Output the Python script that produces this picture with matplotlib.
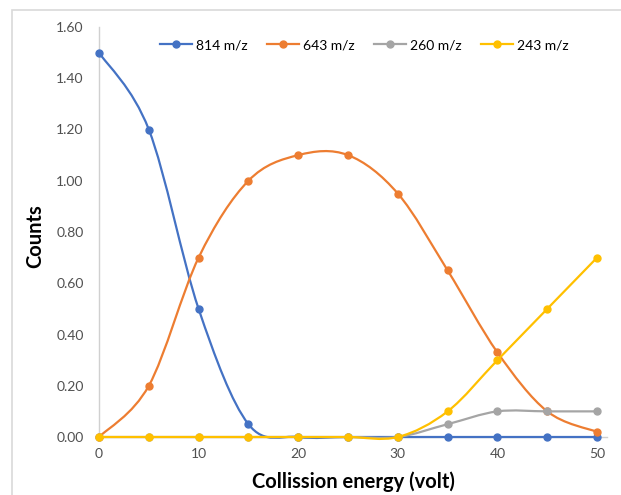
import matplotlib
matplotlib.use("Agg")
import matplotlib.pyplot as plt
from matplotlib.path import Path
from matplotlib.patches import PathPatch, Rectangle
from matplotlib.lines import Line2D

# data
energy = [0, 5, 10, 15, 20, 25, 30, 35, 40, 45, 50]
mz_814 = [1.50, 1.20, 0.50, 0.05, 0, 0, 0, 0, 0, 0, 0]
mz_643 = [0, 0.20, 0.70, 1.00, 1.10, 1.10, 0.95, 0.65, 0.33, 0.10, 0.02]
mz_260 = [0, 0, 0, 0, 0, 0, 0, 0.05, 0.10, 0.10, 0.10]
mz_243 = [0, 0, 0, 0, 0, 0, 0, 0.10, 0.30, 0.50, 0.70]

series_names = ["814 m/z", "643 m/z", "260 m/z", "243 m/z"]
series_colors = ["#4472C4", "#ED7D31", "#A5A5A5", "#FFC000"]
y_ticks = [0, 0.2, 0.4, 0.6, 0.8, 1.0, 1.2, 1.4, 1.6]
x_ticks = [0, 10, 20, 30, 40, 50]

plt.rcParams["font.family"] = ["Lato", "DejaVu Sans"]


def smooth_path(xs, ys):
    # excel style "smoothed line": cubic bezier through every point
    verts = [(xs[0], ys[0])]
    codes = [Path.MOVETO]
    n = len(xs)
    for i in range(n - 1):
        a = max(i - 1, 0)
        b = min(i + 2, n - 1)
        c1 = (xs[i] + (xs[i + 1] - xs[a]) / 6, ys[i] + (ys[i + 1] - ys[a]) / 6)
        c2 = (xs[i + 1] - (xs[b] - xs[i]) / 6, ys[i + 1] - (ys[b] - ys[i]) / 6)
        verts += [c1, c2, (xs[i + 1], ys[i + 1])]
        codes += [Path.CURVE4] * 3
    return Path(verts, codes)


fig = plt.figure(figsize=(6.21, 4.95), dpi=100)
ax = fig.add_axes([99 / 621, 1 - 437 / 495, 508 / 621, 410 / 495])

# light frame around the chart area
fig.patches.append(Rectangle((12 / 621, -0.1), 1.2, 1 - 10 / 495 + 0.1,
                             transform=fig.transFigure, fill=False,
                             edgecolor="#D9D9D9", linewidth=1.2))

all_series = [mz_814, mz_643, mz_260, mz_243]
handles = []
for k, (vals, name, col) in enumerate(zip(all_series, series_names, series_colors)):
    patch = PathPatch(smooth_path(energy, vals), facecolor="none", edgecolor=col,
                      linewidth=1.6, clip_on=False, zorder=3 + k)
    ax.add_patch(patch)
    ax.plot(energy, vals, "o", color=col, markersize=5, clip_on=False, zorder=3 + k)
    handles.append(Line2D([], [], color=col, marker="o", markersize=5, linewidth=1.6))

ax.set_xlim(0, 51)
ax.set_ylim(0, 1.6)
ax.set_xticks(x_ticks)
ax.set_yticks(y_ticks)
ax.set_yticklabels(["%.2f" % v for v in y_ticks])
ax.tick_params(length=0, labelsize=10, colors="#505050")
ax.tick_params(axis="y", pad=11)
ax.tick_params(axis="x", pad=8)

for side in ["top", "right"]:
    ax.spines[side].set_visible(False)
for side in ["left", "bottom"]:
    ax.spines[side].set_color("#D0D0D0")
    ax.spines[side].set_linewidth(1.0)

ax.set_xlabel("Collission energy (volt)", fontsize=14.5, fontweight="bold")
ax.xaxis.set_label_coords(0.5, -0.085)
ax.set_ylabel("Counts", fontsize=14.5, fontweight="bold")
ax.yaxis.set_label_coords(-0.106, 0.49)

ax.legend(handles, series_names, loc="center", bbox_to_anchor=(0.5226, 0.956),
          ncol=4, frameon=False, fontsize=10, handlelength=2.3,
          handletextpad=0.3, columnspacing=1.4)

fig.savefig("out.png", dpi=100)
